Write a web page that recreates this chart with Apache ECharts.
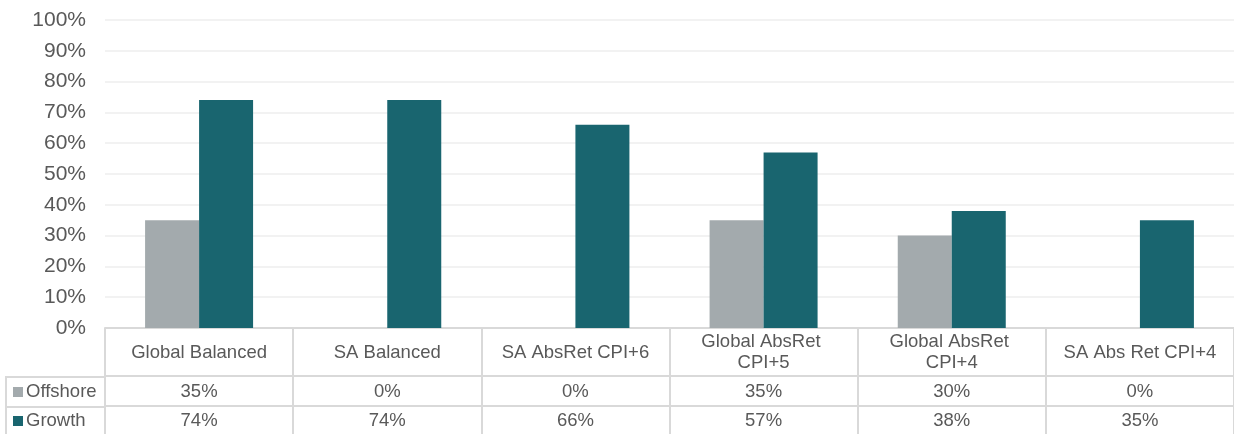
<!DOCTYPE html>
<html>
<head>
<meta charset="utf-8">
<script src="https://cdn.jsdelivr.net/npm/echarts@6/dist/echarts.min.js"></script>
<style>
html,body{margin:0;padding:0;background:#fff;}
#chart{width:1234px;height:434px;}
</style>
</head>
<body>
<div id="chart"></div>
<script>
const categories = ['Global Balanced', 'SA Balanced', 'SA AbsRet CPI+6', 'Global AbsRet CPI+5', 'Global AbsRet CPI+4', 'SA Abs Ret CPI+4'];
const offshore = [35, 0, 0, 35, 30, 0];
const growth = [74, 74, 66, 57, 38, 35];
const seriesNames = ['Offshore', 'Growth'];
const yTicks = [0, 10, 20, 30, 40, 50, 60, 70, 80, 90, 100];

const FONT = 'Liberation Sans, Arial, sans-serif';
const TXT = '#595959';
const LINE = '#d9d9d9';
const GRAY = '#a3aaad';
const TEAL = '#19656f';

const chart = echarts.init(document.getElementById('chart'), null, {renderer: 'canvas'});
const GL = 105, GT = 20, GB = 434 - 328;

function tableAxis(data, offset, tickLen, margin) {
  return {
    type: 'category', position: 'bottom', gridIndex: 0, offset: offset,
    data: data,
    axisLine: {show: true, lineStyle: {color: LINE, width: 2}},
    axisTick: {show: true, length: tickLen, inside: false, lineStyle: {color: LINE, width: 2}},
    axisLabel: {show: true, interval: 0, margin: margin, verticalAlign: 'middle',
      color: TXT, fontFamily: FONT, fontSize: 18.5, lineHeight: 21,
      width: 165, overflow: 'break'},
    splitLine: {show: false}
  };
}

chart.setOption({
  animation: false,
  textStyle: {fontFamily: FONT},
  grid: {left: GL, right: 0, top: GT, bottom: GB, containLabel: false},
  legend: {
    orient: 'vertical', left: 13, top: 382, height: 52, padding: 0,
    itemWidth: 10, itemHeight: 10, itemGap: 9,
    icon: 'rect', data: seriesNames,
    textStyle: {color: TXT, fontFamily: FONT, fontSize: 18.5, lineHeight: 20, padding: [0,0,0,-2]}
  },
  xAxis: [
    tableAxis(categories, 0, 48, 24.5),
    tableAxis(offshore.map(v => v + '%'), 48, 30, 15.7),
    tableAxis(growth.map(v => v + '%'), 78, 30, 14.7)
  ],
  yAxis: {
    type: 'value', min: yTicks[0], max: yTicks[yTicks.length - 1], interval: 10,
    axisLine: {show: false}, axisTick: {show: false},
    axisLabel: {formatter: '{value}%', color: TXT, fontFamily: FONT, fontSize: 21, margin: 19},
    splitLine: {lineStyle: {color: '#eeeeee', width: 1.5}}
  },
  graphic: [
    {type: 'line', shape: {x1: 6, y1: 377, x2: GL, y2: 377}, style: {stroke: LINE, lineWidth: 2}, z: 1},
    {type: 'line', shape: {x1: 6, y1: 407, x2: GL, y2: 407}, style: {stroke: LINE, lineWidth: 2}, z: 1},
    {type: 'line', shape: {x1: 6, y1: 376, x2: 6, y2: 434}, style: {stroke: LINE, lineWidth: 2}, z: 1}
  ],
  series: [
    {name: seriesNames[0], type: 'bar', xAxisIndex: 0, data: offshore, barWidth: 54, barGap: '0%',
      itemStyle: {color: GRAY}},
    {name: seriesNames[1], type: 'bar', xAxisIndex: 0, data: growth, barWidth: 54, barGap: '0%',
      itemStyle: {color: TEAL}}
  ]
});
</script>
</body>
</html>
